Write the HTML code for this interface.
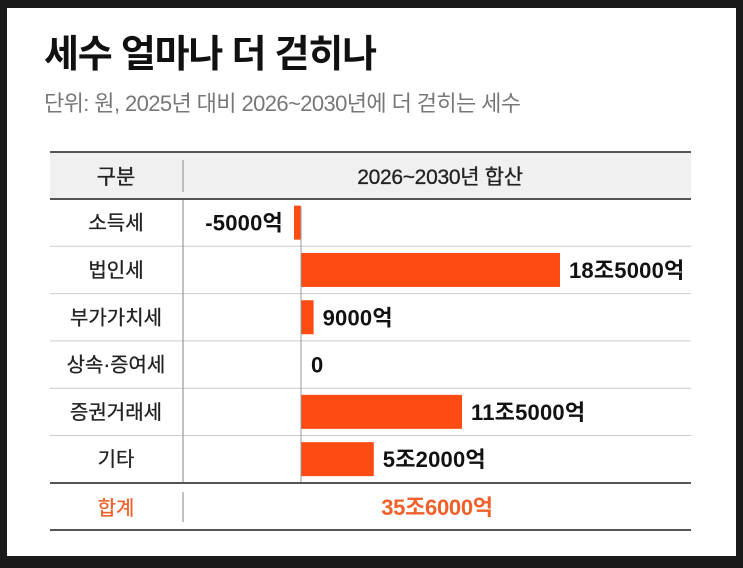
<!DOCTYPE html>
<html><head><meta charset="utf-8"><style>
html,body{margin:0;padding:0;background:#1a1a1a;}
body{width:743px;height:563px;overflow:hidden;position:relative;font-family:"Liberation Sans","Noto Sans CJK KR",sans-serif;}
svg text{font-family:"Liberation Sans","Noto Sans CJK KR",sans-serif;}
</style></head><body>
<svg width="743" height="563" viewBox="0 0 743 563">
<rect x="7" y="8" width="729" height="548" fill="#fff"/>
<text x="44" y="67" font-size="38" font-weight="bold" fill="#111" letter-spacing="-1.2">세수 얼마나 더 걷히나</text>
<text x="44" y="111" font-size="22" fill="#777" letter-spacing="-0.6">단위: 원, 2025년 대비 2026~2030년에 더 걷히는 세수</text>
<rect x="50" y="153" width="641" height="46" fill="#f0f0f0"/>
<line x1="183" y1="160" x2="183" y2="192" stroke="#999" stroke-width="1.2"/>
<text x="116" y="184" font-size="21" text-anchor="middle" fill="#222" stroke="#222" stroke-width="0.3">구분</text>
<text x="440" y="184" font-size="21" text-anchor="middle" fill="#222" stroke="#222" stroke-width="0.3" letter-spacing="-0.3">2026~2030년 합산</text>
<g id="rows"></g>
<line x1="50" y1="152" x2="691" y2="152" stroke="#555" stroke-width="2"/>
<line x1="50" y1="199" x2="691" y2="199" stroke="#555" stroke-width="2"/>
<line x1="50" y1="483" x2="691" y2="483" stroke="#555" stroke-width="2"/>
<line x1="50" y1="530" x2="691" y2="530" stroke="#555" stroke-width="2"/>
<line x1="183" y1="492" x2="183" y2="522" stroke="#999" stroke-width="1.2"/>
<text x="116" y="515" font-size="20" text-anchor="middle" fill="#f0602a" stroke="#f0602a" stroke-width="0.3">합계</text>
<text x="437" y="515" font-size="22" font-weight="bold" text-anchor="middle" fill="#f0602a" letter-spacing="-0.3">35조6000억</text>
</svg>
<script>
const categories=["소득세","법인세","부가가치세","상속·증여세","증권거래세","기타"];
const values=[-0.5,18.5,0.9,0,11.5,5.2];
const valueLabels=["-5000억","18조5000억","9000억","0","11조5000억","5조2000억"];
const NS="http://www.w3.org/2000/svg";
const g=document.getElementById('rows');
const x0=301, pxPer=14, rowTop=199, rowH=47.3;
function xScale(v){return x0+v*pxPer;}
function yRow(i){return rowTop+i*rowH;}
function mk(t,a){const e=document.createElementNS(NS,t);for(const k in a)e.setAttribute(k,a[k]);g.appendChild(e);return e;}
categories.forEach((c,i)=>{
  const y=yRow(i), cy=y+rowH/2;
  if(i>0){const l=mk('line',{x1:50,x2:691,y1:y,y2:y,stroke:'#ccc','stroke-width':1});
    
    }
  const t=mk('text',{x:116,y:cy+7,'font-size':20,'text-anchor':'middle',fill:'#222',stroke:'#222','stroke-width':0.3});
  t.textContent=c;
  
  
  const v=values[i];
  const xa=Math.min(xScale(0),xScale(v)), w=Math.abs(xScale(v)-xScale(0));
  if(w>0){const b=mk('rect',{x:xa,y:cy-17,width:Math.max(w,5),height:34,fill:'#fc4c14'});
    
    }
  const neg=v<0;
  const lb=mk('text',{x:neg?xScale(v)-11:xScale(v)+(v===0?10:9),y:cy+8,'font-size':22,'font-weight':'bold',fill:'#111','letter-spacing':'0.2','text-anchor':neg?'end':'start'});
  lb.textContent=valueLabels[i];
  
  
});
const ax=mk('line',{x1:x0,x2:x0,y1:yRow(0)+8,y2:yRow(categories.length),stroke:'#999','stroke-width':1});


const cd=mk('line',{x1:183,x2:183,y1:rowTop,y2:yRow(categories.length),stroke:'#999','stroke-width':1.2});


</script>
</body></html>
